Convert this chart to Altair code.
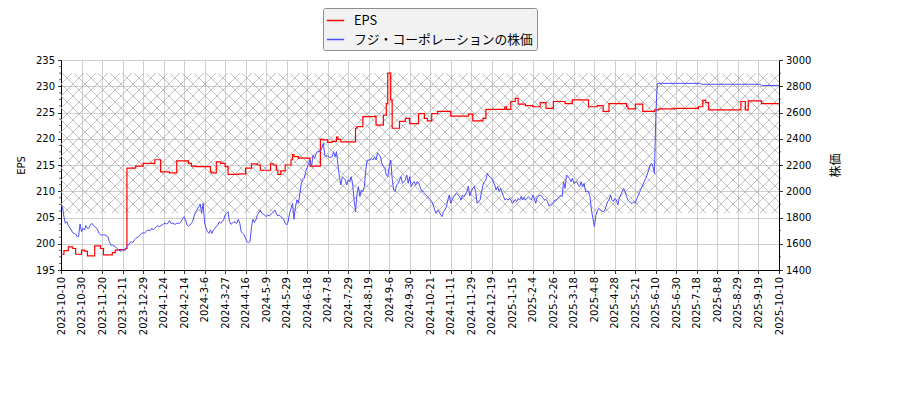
import altair as alt
import pandas as pd

# x axis: trading-day index, one tick every 14 trading days
DATE_LABELS = [
    "2023-10-10", "2023-10-30", "2023-11-20", "2023-12-11", "2023-12-29",
    "2024-1-24", "2024-2-14", "2024-3-6", "2024-3-27", "2024-4-16",
    "2024-5-9", "2024-5-29", "2024-6-18", "2024-7-8", "2024-7-29",
    "2024-8-19", "2024-9-6", "2024-9-30", "2024-10-21", "2024-11-11",
    "2024-11-29", "2024-12-19", "2025-1-15", "2025-2-4", "2025-2-26",
    "2025-3-18", "2025-4-8", "2025-4-28", "2025-5-21", "2025-6-10",
    "2025-6-30", "2025-7-18", "2025-8-8", "2025-8-29", "2025-9-19",
    "2025-10-10",
]
TICK_STEP = 14
LAST_DAY = TICK_STEP * (len(DATE_LABELS) - 1)

# EPS (step series): day index where the value changes, and the value
EPS_DAY = [0, 2, 5, 8, 10, 14, 16, 18, 23, 27, 29, 35, 37, 40, 44, 45, 51, 56,
           64, 68, 74, 79, 87, 89, 92, 102, 103, 106, 109, 112, 114, 121, 126,
           130, 134, 136, 143, 145, 147, 148, 150, 153, 157, 158, 159, 162,
           170, 177, 179, 182, 185, 188, 189, 191, 201, 202, 206, 214, 215,
           220, 222, 223, 225, 226, 231, 235, 238, 244, 248, 250, 253, 257,
           266, 278, 281, 288, 290, 303, 304, 307, 310, 312, 317, 322, 327,
           331, 336, 344, 349, 360, 366, 370, 374, 386, 387, 392, 397, 405,
           408, 419, 435, 438, 440, 442, 464, 467, 469, 478, 490]
EPS_VALUE = [198.0, 198.7, 199.4, 199.1, 198.0, 198.8, 198.6, 197.7, 199.6,
             199.1, 197.9, 198.3, 198.8, 198.9, 199.1, 214.4, 214.8, 215.3,
             216.0, 213.7, 213.5, 215.8, 215.3, 214.8, 214.7, 213.7, 213.5,
             215.6, 215.3, 214.7, 213.2, 213.3, 214.4, 215.2, 215.0, 214.0,
             215.2, 215.0, 214.0, 213.2, 213.9, 215.0, 216.0, 217.0, 216.6,
             216.3, 214.8, 219.9, 219.8, 219.3, 219.5, 220.3, 219.9, 219.4,
             222.0, 222.3, 224.2, 224.3, 222.6, 224.5, 226.7, 232.5, 227.4,
             222.0, 223.3, 223.9, 222.9, 224.8, 223.9, 223.4, 224.8, 225.2,
             224.3, 224.7, 223.4, 223.9, 225.6, 226.1, 225.6, 227.1, 227.7,
             226.6, 226.3, 226.1, 226.9, 225.8, 227.1, 226.7, 227.4, 226.1,
             226.3, 225.2, 226.7, 226.1, 225.7, 226.6, 225.2, 225.5, 225.7,
             225.8, 226.1, 227.3, 226.9, 225.5, 227.1, 225.5, 227.2, 226.7,
             226.7]

# share price
PRICE_DAY = [0, 1, 2, 3, 4, 5, 7, 8, 9, 10, 11, 12, 13, 14, 15, 16, 17, 18, 19,
             20, 21, 23, 24, 25, 26, 27, 29, 30, 32, 33, 34, 35, 37, 38, 39, 40,
             41, 42, 43, 44, 45, 46, 47, 48, 49, 50, 51, 53, 54, 55, 56, 57, 58,
             59, 61, 62, 63, 64, 65, 66, 67, 69, 70, 71, 72, 73, 74, 75, 76, 78,
             79, 80, 81, 82, 83, 84, 85, 86, 87, 88, 89, 90, 91, 92, 94, 95, 96,
             97, 98, 99, 100, 101, 102, 103, 104, 105, 107, 108, 109, 111, 112,
             113, 114, 115, 116, 117, 118, 120,
             121, 122, 123, 124, 125, 127, 128, 129, 130, 131, 132, 133, 134,
             136, 137, 138, 139, 140, 141, 142, 144, 145, 146, 147, 148, 149,
             150, 152, 153, 154, 155, 156, 157, 158, 159, 160, 161, 162, 163,
             164, 165, 166, 167, 169, 170, 171, 172, 173, 174, 175, 177, 178,
             179, 180, 181, 182, 183, 185, 186, 187, 188, 189, 190, 191, 192,
             194, 195, 196, 197, 198, 199, 200, 201, 202, 203, 204, 205, 206,
             207, 208, 209, 211, 212, 213, 214, 215, 216, 218, 219, 220, 221,
             222, 223, 224, 225, 226, 227, 228, 229, 230, 231, 232, 233, 235,
             236, 237, 238, 239, 240, 241, 242, 243,
             244, 245, 246, 247, 248, 249, 250, 252, 253, 254, 255, 256, 257,
             258, 260, 261, 262, 263, 264, 265, 266, 268, 269, 270, 271, 272,
             273, 274, 275, 277, 278, 279, 280, 281, 282, 283, 284, 286, 287,
             288, 289, 290, 291, 292, 294, 295, 296, 297, 298, 299, 300, 302,
             303, 304, 305, 306, 307, 308, 310, 311, 312, 313, 314, 315, 316,
             317, 319, 320, 321, 322, 323, 324, 325, 327, 328, 329, 330, 331,
             332, 333, 335, 336, 337, 338, 339, 340, 341, 342, 343, 344, 345,
             346, 347, 348, 349, 350, 352, 353, 354, 355, 356, 357, 358, 360,
             361, 362, 363, 364, 365, 366,
             367, 368, 370, 371, 372, 373, 374, 375, 376, 377, 378, 379, 380,
             381, 382, 383, 384, 385, 386, 387, 388, 389, 390, 391, 392, 393,
             394, 395, 396, 397, 398, 399, 400, 401, 402, 403, 404, 405, 406,
             407, 436, 437, 477, 478, 490]
PRICE_VALUE = [1888, 1883, 1806, 1755, 1768, 1738, 1705, 1684, 1679, 1674, 1654,
               1654, 1750, 1692, 1718, 1705, 1738, 1718, 1718, 1743, 1756, 1730,
               1723, 1705, 1679, 1667, 1667, 1667, 1654, 1616, 1590, 1590, 1578,
               1565, 1557, 1552, 1540, 1557, 1547, 1565, 1578, 1590, 1608, 1616,
               1608, 1629, 1641, 1654, 1667, 1679, 1684, 1679, 1692, 1705, 1700,
               1718, 1705, 1718, 1730, 1738, 1730, 1743, 1750, 1756, 1750, 1756,
               1776, 1756, 1756, 1748, 1756, 1756, 1756, 1768, 1794, 1806, 1781,
               1743, 1735, 1743, 1756, 1773, 1819, 1844, 1882, 1903, 1832, 1908,
               1760, 1718, 1692, 1679, 1705, 1679, 1705, 1718, 1743, 1768, 1756,
               1781, 1819, 1832, 1844, 1770, 1748, 1756, 1768, 1756,
               1786, 1756, 1692, 1679, 1667, 1616, 1608, 1616, 1730, 1786, 1761,
               1781, 1819, 1857, 1832, 1827, 1819, 1806, 1819, 1811, 1832, 1844,
               1857, 1827, 1811, 1819, 1806, 1786, 1756, 1743, 1768, 1832, 1870,
               1908, 1786, 1882, 1933, 1908, 1984, 2060, 2086, 2098, 2149, 2213,
               2238, 2187, 2276, 2250, 2284, 2302, 2302, 2327, 2365, 2276, 2263,
               2276, 2256, 2263, 2302, 2263, 2302, 2200, 2111, 2048, 2111, 2086,
               2048, 2086, 2073, 2111, 2060, 1933, 1844, 1980, 2035, 1959, 2010,
               1997, 2035, 2162, 2238, 2238, 2251, 2238, 2263, 2238, 2294, 2263,
               2213, 2187, 2175, 2124, 2111, 2187, 2238, 2098, 2010, 1997, 2048,
               2060, 2086, 2111, 2060, 2086, 2124, 2060, 2111, 2035, 2060, 2073,
               2048, 2073,
               2065, 2035, 2002, 2002, 1984, 1971, 1959, 1938, 1921, 1895, 1857,
               1832, 1857, 1844, 1806, 1844, 1857, 1882, 1933, 1971, 1908, 1959,
               1971, 1984, 1971, 1959, 1933, 1971, 1959, 1997, 2040, 1964, 1997,
               2022, 2035, 1997, 1908, 1933, 1997, 2048, 2073, 2086, 2137, 2116,
               2098, 2073, 2048, 2010, 2035, 1997, 2022, 1959, 1933, 1946, 1933,
               1946, 1933, 1908, 1938, 1921, 1946, 1933, 1959, 1933, 1954, 1933,
               1959, 1946, 1933, 1971, 1946, 1908, 1959, 1971, 1964, 1946, 1933,
               1938, 1921, 1888, 1903, 1913, 1933, 1933, 1946, 1959, 1971, 1959,
               2073, 2022, 2124, 2111, 2098, 2073, 2098, 2060, 2073, 2048, 2035,
               2073, 2035, 2060, 1997, 1997, 1959, 1857, 1794, 1730, 1815, 1850,
               1870, 1857, 1844, 1852, 1882, 1921, 1933, 1971, 1933, 1921, 1946,
               1933, 1895, 1946, 1971, 1997, 2022, 1997, 1959, 1933, 1921, 1908,
               1908, 1921, 1908, 1946, 1971, 1997, 2022, 2048, 2073, 2098, 2124,
               2162, 2200, 2213, 2187, 2137, 2600, 2822, 2822, 2815, 2815, 2805,
               2807]

EPS_TICKS = [195, 200, 205, 210, 215, 220, 225, 230, 235]
EPS_MINOR = [195 + 1.25 * k for k in range(33) if k % 4]
PRICE_TICKS = [1400, 1600, 1800, 2000, 2200, 2400, 2600, 2800, 3000]
PRICE_MINOR = [1500, 1700, 1900, 2100, 2300, 2500, 2700, 2900]

HATCH_BAND = [205.8, 232.5]  # EPS units, whole x range

SERIES = ["EPS", "フジ・コーポレーションの株価"]
COLORS = ["#ff0000", "#4d4dff"]

PLOT_W, PLOT_H = 718, 210
HATCH_STEP = 12  # px between hatch lines
GRID = "#c4c4c4"
JP_FONT = "Noto Sans CJK JP"


def hatch_lines(lo, hi):
    """Cross-hatch ('x') segments filling the band lo..hi, in data units."""
    sx = PLOT_W / LAST_DAY
    sy = PLOT_H / (EPS_TICKS[-1] - EPS_TICKS[0])
    top = (EPS_TICKS[-1] - hi) * sy
    bot = (EPS_TICKS[-1] - lo) * sy
    segs = []
    for k in range(-70, 80):
        c = k * HATCH_STEP
        a, b = max(0, top - c), min(PLOT_W, bot - c)
        if a < b:
            segs.append((a, a + c, b, b + c))
        a, b = max(0, c - bot), min(PLOT_W, c - top)
        if a < b:
            segs.append((a, c - a, b, c - b))
    return pd.DataFrame([
        {"day": x1 / sx, "y": EPS_TICKS[-1] - y1 / sy,
         "day2": x2 / sx, "y2": EPS_TICKS[-1] - y2 / sy}
        for x1, y1, x2, y2 in segs
    ])


eps_df = pd.DataFrame({"day": EPS_DAY, "value": EPS_VALUE, "series": SERIES[0]})
price_df = pd.DataFrame({"day": PRICE_DAY, "value": PRICE_VALUE, "series": SERIES[1]})

label_expr = "[" + ",".join(f"'{d}'" for d in DATE_LABELS) + "][round(datum.value / %d)]" % TICK_STEP

x_scale = alt.Scale(domain=[0, LAST_DAY], nice=False, zero=False)
x_axis = alt.Axis(
    values=list(range(0, LAST_DAY + 1, TICK_STEP)), labelExpr=label_expr,
    labelAngle=-90, title=None, grid=True, gridColor=GRID, gridWidth=0.8,
    labelOverlap=False, labelFlush=False, labelPadding=3,
)
x_enc = alt.X("day:Q", scale=x_scale, axis=x_axis)

eps_scale = alt.Scale(domain=[EPS_TICKS[0], EPS_TICKS[-1]], nice=False, zero=False)
eps_axis = alt.Axis(values=EPS_TICKS, title="EPS", grid=True, gridColor=GRID,
                    gridWidth=0.8, titlePadding=9, format="d")
price_scale = alt.Scale(domain=[PRICE_TICKS[0], PRICE_TICKS[-1]], nice=False, zero=False)
price_axis = alt.Axis(values=PRICE_TICKS, title="株価", orient="right", grid=False,
                      titleFont=JP_FONT, titleFontSize=12, titleAngle=270,
                      titlePadding=32, format="d")

color = alt.Color(
    "series:N",
    scale=alt.Scale(domain=SERIES, range=COLORS),
    legend=alt.Legend(
        title=None, orient="none", legendX=262, legendY=-52,
        symbolType="stroke", symbolSize=300, symbolStrokeWidth=1.5,
        labelFont=JP_FONT, labelFontSize=12.8, labelColor="black", labelLimit=0,
        fillColor="#f2f2f2", strokeColor="#8c8c8c", cornerRadius=2,
        padding=3, rowPadding=2, labelOffset=9,
    ),
)

hatch = alt.Chart(hatch_lines(*HATCH_BAND)).mark_rule(
    color="#a6a6a6", strokeWidth=0.7
).encode(
    x=x_enc,
    y=alt.Y("y:Q", scale=eps_scale, axis=eps_axis),
    x2="day2:Q",
    y2="y2:Q",
)

eps_line = alt.Chart(eps_df).mark_line(interpolate="step-after", strokeWidth=1.2).encode(
    x=x_enc,
    y=alt.Y("value:Q", scale=eps_scale, axis=eps_axis),
    color=color,
)

eps_minor = alt.Chart(pd.DataFrame({"v": EPS_MINOR})).mark_rule(
    color="black", strokeWidth=0.6
).encode(
    y=alt.Y("v:Q", scale=eps_scale, axis=eps_axis),
    x=alt.value(0),
    x2=alt.value(-2),
)

price_line = alt.Chart(price_df).mark_line(strokeWidth=1).encode(
    x=x_enc,
    y=alt.Y("value:Q", scale=price_scale, axis=price_axis),
    color=color,
)

price_minor = alt.Chart(pd.DataFrame({"v": PRICE_MINOR})).mark_rule(
    color="black", strokeWidth=0.6
).encode(
    y=alt.Y("v:Q", scale=price_scale, axis=price_axis),
    x=alt.value(PLOT_W),
    x2=alt.value(PLOT_W + 2),
)

left = alt.layer(hatch, eps_line, eps_minor)
right = alt.layer(price_line, price_minor)

chart = (
    alt.layer(left, right)
    .resolve_scale(y="independent")
    .properties(
        width=PLOT_W,
        height=PLOT_H,
        padding={"left": 53, "top": 52, "right": 113, "bottom": 122},
        autosize=alt.AutoSizeParams(type="none"),
    )
    .configure(font="DejaVu Sans")
    .configure_view(stroke=None)
    .configure_axis(
        labelFont="DejaVu Sans", labelFontSize=10, labelColor="black",
        titleFont="DejaVu Sans", titleFontSize=10, titleFontWeight="normal",
        titleColor="black", domainColor="black", domainWidth=1,
        tickColor="black", tickSize=3.5, tickWidth=0.8, labelPadding=3,
    )
)

chart.save("out.html", embed_options={"renderer": "svg", "actions": False})
